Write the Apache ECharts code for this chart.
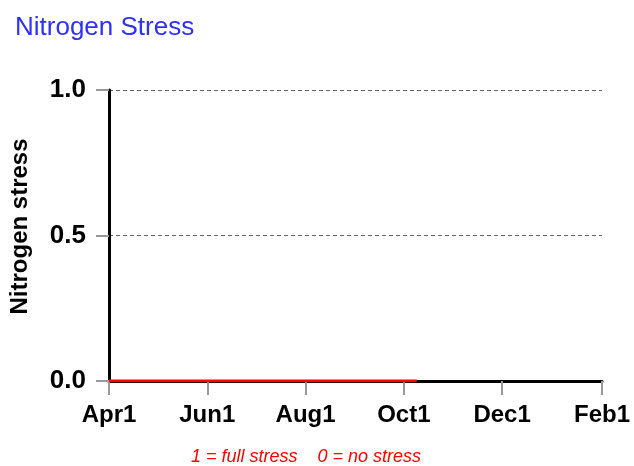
<!DOCTYPE html>
<html><head><meta charset="utf-8">
<script src="https://cdn.jsdelivr.net/npm/echarts@6/dist/echarts.min.js"></script>
<style>html,body{margin:0;padding:0;background:#fff}#c{width:634px;height:466px}</style>
</head><body><div id="c"></div>
<script>
// Days counted from Apr 1
const tickDays = [0, 61, 122, 183, 244, 306];
const tickLabels = ['Apr1', 'Jun1', 'Aug1', 'Oct1', 'Dec1', 'Feb1'];
const stressDays = [0, 191];
const stressValues = [0, 0];

const FONT = 'Liberation Sans, Arial, sans-serif';
const chart = echarts.init(document.getElementById('c'));
chart.setOption({
  animation: false,
  title: {
    text: 'Nitrogen Stress', left: 10, top: 10,
    textStyle: { color: '#2f2fff', fontSize: 26, fontWeight: 'normal', fontFamily: FONT }
  },
  graphic: [{
    type: 'text', x: 306, y: 448,
    style: { text: '1 = full stress    0 = no stress', fill: '#ff0000', fontSize: 18, fontStyle: 'italic', fontFamily: FONT, align: 'center', verticalAlign: 'top' }
  }],
  grid: { left: 108, right: 32, top: 90, bottom: 85 },
  xAxis: {
    type: 'value', min: 0, max: 306,
    axisLine: { show: true, lineStyle: { color: '#000', width: 3 } },
    axisTick: { show: true, customValues: tickDays, length: 14, lineStyle: { color: '#999', width: 2 } },
    axisLabel: {
      customValues: tickDays,
      formatter: v => tickLabels[tickDays.indexOf(v)] || '',
      color: '#000', fontSize: 24, fontWeight: 'bold', margin: 22, fontFamily: FONT
    },
    splitLine: { show: false }
  },
  yAxis: {
    type: 'value', min: 0, max: 1, interval: 0.5,
    name: 'Nitrogen stress', nameLocation: 'middle', nameGap: 77, nameRotate: 90,
    nameTextStyle: { color: '#000', fontSize: 24, fontWeight: 'bold', fontFamily: FONT, padding: [0, 0, 0, 18] },
    axisLine: { show: true, lineStyle: { color: '#000', width: 3 } },
    axisTick: { show: true, length: 13, lineStyle: { color: '#999', width: 2 } },
    axisLabel: {
      formatter: v => v.toFixed(1), color: '#000', fontSize: 26, fontWeight: 'bold', margin: 23, fontFamily: FONT
    },
    splitLine: { show: true, lineStyle: { color: '#666', type: [4, 3], width: 1 } }
  },
  series: [{
    type: 'line', symbol: 'none',
    data: stressDays.map((d, i) => [d, stressValues[i]]),
    lineStyle: { color: '#ff0000', width: 3 },
    z: 5
  }]
});
</script></body></html>
